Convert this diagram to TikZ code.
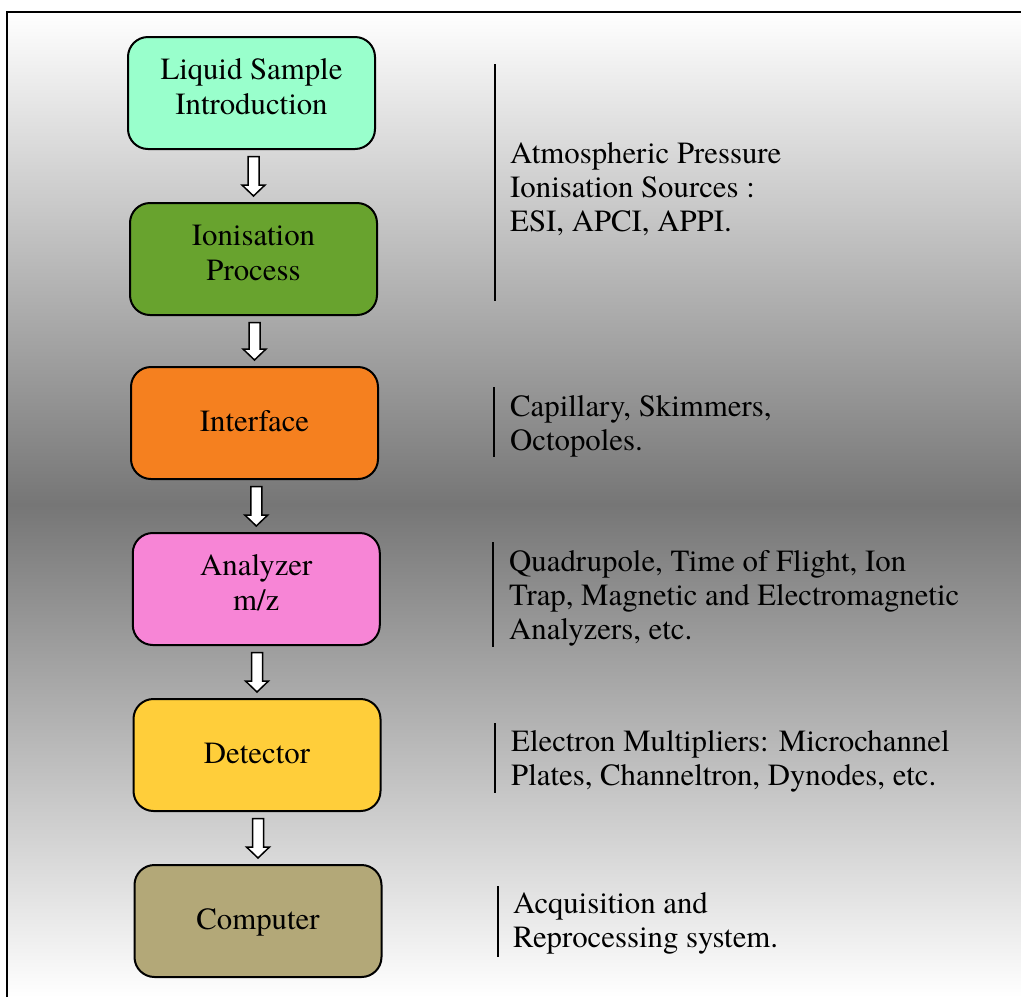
\documentclass[tikz,border=0pt]{standalone}
\usepackage{fontspec}
\setmainfont{TeX Gyre Termes}
\usetikzlibrary{calc}
\definecolor{c1}{RGB}{153,255,204}
\definecolor{c2}{RGB}{104,163,46}
\definecolor{c3}{RGB}{245,128,31}
\definecolor{c4}{RGB}{247,133,214}
\definecolor{c5}{RGB}{255,206,58}
\definecolor{c6}{RGB}{179,168,120}
\definecolor{bgmid}{RGB}{118,118,118}
\newcommand\deepstrut{\rule[-15.2pt]{0pt}{39pt}}
\newcommand\tallstrut{\rule[-10.2pt]{0pt}{38pt}}
\tikzset{
 stage/.style={draw=black, line width=2pt, rounded corners=20pt, minimum width=247pt, minimum height=112pt, inner sep=0pt, align=center, font=\fontsize{30.8}{34}\selectfont},
 note/.style={anchor=west, inner sep=0pt, align=left, font=\fontsize{30.8}{34}\selectfont},
 bar/.style={line width=2pt},
 flow/.style={draw=black, fill=white, line width=1.5pt, line join=miter},
}
\newcommand\flowarrow[2]{\path[flow] let \p1=(#1.south), \p2=(#2.north) in (\x2-5.5pt,\y1-6.5pt) -- (\x2+5.5pt,\y1-6.5pt) -- (\x2+5.5pt,\y2+17pt) -- (\x2+11.5pt,\y2+17pt) -- (\x2,\y2+6pt) -- (\x2-11.5pt,\y2+17pt) -- (\x2-5.5pt,\y2+17pt) -- cycle;}
\begin{document}
\begin{tikzpicture}[x=1pt,y=-1pt]
\useasboundingbox (0,0) rectangle (1021,997);
\fill[white] (0,0) rectangle (1021,997);
\fill[top color=white, bottom color=white, middle color=bgmid] (7,12) rectangle (1021,997);
\draw[line width=2pt] (7,997) -- (7,12) -- (1021,12);

\node[stage, fill=c1] (s1) at (251.5,93) {\strut Liquid Sample\\\deepstrut Introduction};
\node[stage, fill=c2] (s2) at (253.5,259) {\strut Ionisation\\\deepstrut Process};
\node[stage, fill=c3] (s3) at (254.5,423) {\tallstrut Interface};
\node[stage, fill=c4] (s4) at (256.3,589) {\strut Analyzer\\\deepstrut m/z};
\node[stage, fill=c5] (s5) at (257,755) {\tallstrut Detector};
\node[stage, fill=c6] (s6) at (258,921) {\tallstrut Computer};

\flowarrow{s1}{s2}
\flowarrow{s2}{s3}
\flowarrow{s3}{s4}
\flowarrow{s4}{s5}
\flowarrow{s5}{s6}

\draw[bar] (495,64) -- (495,301);
\node[note] (n1) at (510,191) {\strut Atmospheric Pressure\\\strut Ionisation Sources :\\\strut ESI, APCI, APPI.};
\draw[bar] (494,387) -- (494,457);
\node[note] (n2) at (510,427) {\strut Capillary, Skimmers,\\\strut Octopoles.};
\draw[bar] (493,542) -- (493,647);
\node[note] (n3) at (509,599) {\strut Quadrupole, Time of Flight, Ion\\\strut Trap, Magnetic and Electromagnetic\\\strut Analyzers, etc.};
\draw[bar] (495,723) -- (495,793);
\node[note] (n4) at (511,762) {\strut Electron Multipliers: Microchannel\\\strut Plates, Channeltron, Dynodes, etc.};
\draw[bar] (498,886) -- (498,957);
\node[note] (n5) at (513,924) {\strut Acquisition and\\\strut Reprocessing system.};
\end{tikzpicture}
\end{document}
